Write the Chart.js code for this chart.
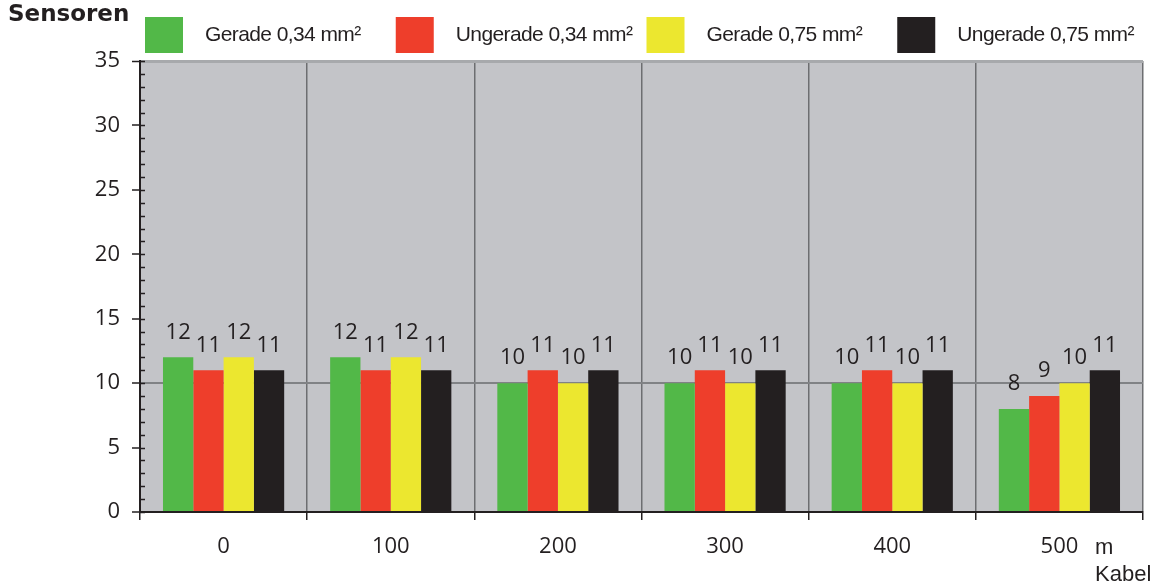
<!DOCTYPE html>
<html>
<head>
<meta charset="utf-8">
<script src="https://cdn.jsdelivr.net/npm/chart.js@4/dist/chart.umd.min.js"></script>
<style>
  html,body{margin:0;padding:0;background:#fff;}
  canvas{display:block;}
</style>
</head>
<body>
<canvas id="chart" width="1157" height="584"></canvas>
<script>
// data
const categories = ["0","100","200","300","400","500"];
const seriesNames = ["Gerade 0,34 mm²","Ungerade 0,34 mm²","Gerade 0,75 mm²","Ungerade 0,75 mm²"];
const gerade034   = [12,12,10,10,10,8];
const ungerade034 = [11,11,11,11,11,9];
const gerade075   = [12,12,10,10,10,10];
const ungerade075 = [11,11,11,11,11,11];
const colors = ["#52b848","#ee3e2b","#ece72f","#231f20"];

const textColor = "#231f20";
const numFont = "'Open Sans', 'DejaVu Sans', sans-serif";
const txtFont = "'Liberation Sans', Arial, sans-serif";

// plot background
const bgPlugin = {
  id:"bg",
  beforeDraw(chart){
    const {ctx, chartArea:a} = chart;
    ctx.save();
    ctx.fillStyle = "#c3c4c8";
    ctx.fillRect(a.left, a.top, a.right-a.left, a.bottom-a.top);
    ctx.restore();
  }
};

// minor ticks, value labels, legend, titles
const extras = {
  id:"extras",
  afterDraw(chart){
    const {ctx, chartArea:a} = chart;
    const y = chart.scales.y;
    ctx.save();

    // minor ticks inside the y axis
    ctx.strokeStyle = textColor;
    ctx.lineWidth = 1.5;
    for(let v=0; v<=35; v++){
      const py = Math.round(y.getPixelForValue(v)) + 0.5;
      ctx.beginPath();
      ctx.moveTo(a.left, py);
      ctx.lineTo(a.left+5, py);
      ctx.stroke();
    }

    // value labels above bars
    ctx.fillStyle = textColor;
    ctx.font = "22px " + numFont;
    ctx.textAlign = "center";
    ctx.textBaseline = "middle";
    chart.data.datasets.forEach((ds,i)=>{
      chart.getDatasetMeta(i).data.forEach((bar,j)=>{
        ctx.fillText(ds.data[j], bar.x, bar.y-25);
      });
    });

    // legend
    const step = (a.right-a.left)/4;
    ctx.textAlign = "left";
    ctx.font = "21px " + txtFont;
    ctx.letterSpacing = "-0.6px";
    chart.data.datasets.forEach((ds,i)=>{
      const bx = a.left + 5 + i*step;
      ctx.fillStyle = ds.backgroundColor;
      ctx.fillRect(bx, 17, 38, 36);
      ctx.fillStyle = textColor;
      ctx.fillText(ds.label, bx+60, 35);
    });

    // axis titles
    ctx.letterSpacing = "0px";
    ctx.font = "bold 23px 'DejaVu Sans', sans-serif";
    ctx.fillText("Sensoren", 8, 15);
    ctx.font = "22px " + txtFont;
    ctx.fillText("m", a.right-48, 548);
    ctx.fillText("Kabel", a.right-48, 575);
    ctx.restore();
  }
};

const chart = new Chart(document.getElementById("chart"), {
  type:"bar",
  data:{
    labels:categories,
    datasets:[
      {label:seriesNames[0], data:gerade034,   backgroundColor:colors[0]},
      {label:seriesNames[1], data:ungerade034, backgroundColor:colors[1]},
      {label:seriesNames[2], data:gerade075,   backgroundColor:colors[2]},
      {label:seriesNames[3], data:ungerade075, backgroundColor:colors[3]}
    ]
  },
  options:{
    responsive:false,
    animation:false,
    layout:{padding:{top:61,right:14,left:0,bottom:0}},
    datasets:{bar:{categoryPercentage:0.725, barPercentage:1, borderWidth:0}},
    plugins:{legend:{display:false}, tooltip:{enabled:false}},
    scales:{
      x:{
        grid:{offset:true, color:"#6d6e71", lineWidth:1.5, tickLength:8, tickColor:textColor, tickWidth:1.5},
        border:{display:true, color:textColor, width:2},
        ticks:{color:textColor, font:{family:numFont, size:22}, padding:14},
        afterFit(s){ s.height = 72; }
      },
      y:{
        min:0, max:35,
        ticks:{stepSize:5, color:textColor, font:{family:numFont, size:22}, padding:12},
        grid:{
          color:c=> c.tick.value===10 ? "#808285" : (c.tick.value===35 ? "#a7a9ac" : "rgba(0,0,0,0)"),
          lineWidth:c=> c.tick.value===35 ? 3 : 2,
          tickLength:8, tickColor:textColor, tickWidth:1.5
        },
        border:{display:true, color:textColor, width:2},
        afterFit(s){ s.width = 140; }
      }
    }
  },
  plugins:[bgPlugin, extras]
});
</script>
</body>
</html>
